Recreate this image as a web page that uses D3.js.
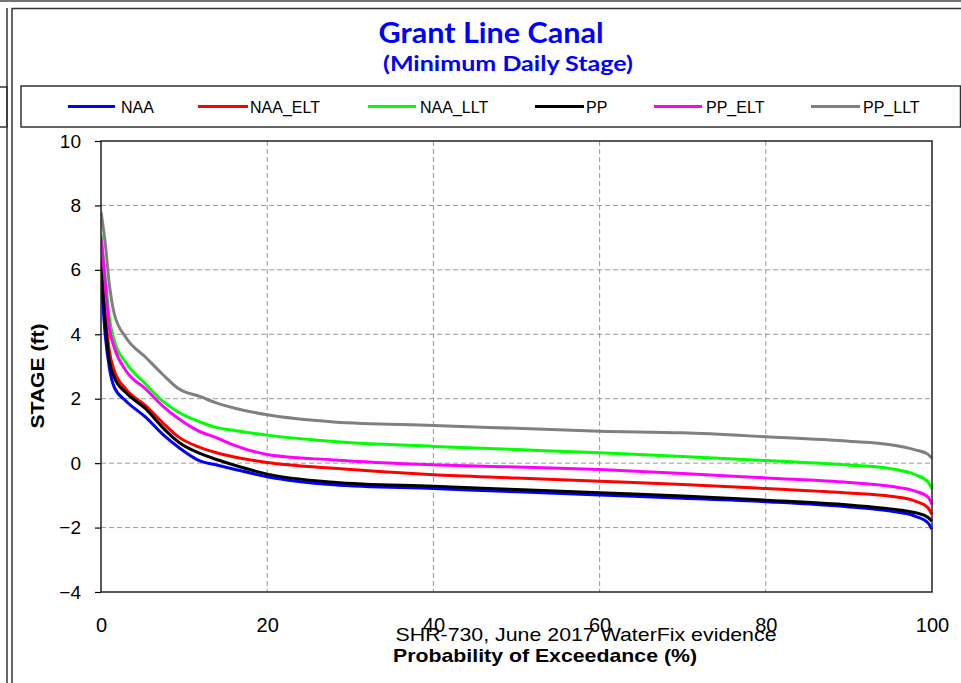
<!DOCTYPE html>
<html>
<head>
<meta charset="utf-8">
<script src="https://cdn.jsdelivr.net/npm/d3@7"></script>
<style>
  html, body { margin: 0; padding: 0; background: #fff; }
  svg { display: block; }
</style>
</head>
<body>
<svg id="chart" width="961" height="683"></svg>
<script>
// ---------- data ----------
const titleText = "Grant Line Canal";
const subtitleText = "(Minimum Daily Stage)";
const xTitle = "Probability of Exceedance (%)";
const yTitle = "STAGE (ft)";
const noteText = "SHR-730, June 2017 WaterFix evidence";

const seriesNames = ["NAA", "NAA_ELT", "NAA_LLT", "PP", "PP_ELT", "PP_LLT"];
const seriesColors = ["#0000ff", "#ff0000", "#00ff00", "#000000", "#ff00ff", "#808080"];

const exceedance = [0, 0.5, 1, 1.6, 3, 5.4, 7.4, 9.4, 11.9, 13.8, 15.9, 20, 28, 40, 50, 60, 70, 80, 90, 95, 98, 99.5, 100];

const NAA     = [5.8, 4.0, 2.97, 2.35, 1.93, 1.42, 0.90, 0.48, 0.07, -0.05, -0.18, -0.42, -0.67, -0.79, -0.89, -0.99, -1.09, -1.20, -1.36, -1.49, -1.65, -1.85, -2.05];
const NAA_ELT = [6.6, 4.73, 3.49, 2.87, 2.30, 1.78, 1.26, 0.80, 0.49, 0.33, 0.20, 0.02, -0.16, -0.36, -0.46, -0.56, -0.66, -0.79, -0.93, -1.03, -1.18, -1.38, -1.6];
const NAA_LLT = [7.1, 5.8, 4.52, 3.80, 3.12, 2.45, 1.93, 1.57, 1.28, 1.11, 1.02, 0.87, 0.67, 0.52, 0.42, 0.32, 0.21, 0.08, -0.06, -0.17, -0.36, -0.58, -0.8];
const PP      = [6.4, 4.41, 3.18, 2.66, 2.19, 1.68, 1.11, 0.64, 0.30, 0.12, -0.05, -0.34, -0.59, -0.72, -0.82, -0.92, -1.02, -1.15, -1.30, -1.42, -1.54, -1.68, -1.80];
const PP_ELT  = [7.0, 5.6, 4.21, 3.59, 2.87, 2.30, 1.78, 1.37, 0.98, 0.80, 0.57, 0.27, 0.10, -0.05, -0.12, -0.20, -0.32, -0.46, -0.60, -0.72, -0.87, -1.05, -1.28];
const PP_LLT  = [7.8, 6.85, 5.56, 4.63, 3.90, 3.28, 2.76, 2.30, 2.07, 1.88, 1.72, 1.50, 1.28, 1.17, 1.08, 0.99, 0.94, 0.82, 0.68, 0.57, 0.41, 0.28, 0.15];

const xTicks = [0, 20, 40, 60, 80, 100];
const yTicks = [-4, -2, 0, 2, 4, 6, 8, 10];

const seriesValues = [NAA, NAA_ELT, NAA_LLT, PP, PP_ELT, PP_LLT];

// ---------- layout ----------
const svg = d3.select("#chart");
const plot = { left: 101, right: 932, top: 141, bottom: 592 };

const x = d3.scaleLinear().domain([0, 100]).range([plot.left, plot.right]);
const y = d3.scaleLinear().domain([-4, 10]).range([plot.bottom, plot.top]);

// outer frames (page decorations)
svg.append("line").attr("x1", 0).attr("x2", 961).attr("y1", 1).attr("y2", 1)
  .attr("stroke", "#444").attr("stroke-width", 1.5);
svg.append("line").attr("x1", 7).attr("x2", 7).attr("y1", 8).attr("y2", 683)
  .attr("stroke", "#333").attr("stroke-width", 1.5);
svg.append("rect").attr("x", -5).attr("y", 87).attr("width", 12).attr("height", 40)
  .attr("fill", "none").attr("stroke", "#333").attr("stroke-width", 1.5);
svg.append("path").attr("d", "M12,690 L12,8.5 L970,8.5")
  .attr("fill", "none").attr("stroke", "#333").attr("stroke-width", 1.5);

// title
svg.append("text").attr("x", 491).attr("y", 43)
  .attr("text-anchor", "middle")
  .attr("font-family", "Lato, 'Open Sans', sans-serif").attr("font-weight", "bold")
  .attr("font-size", 29).attr("fill", "#0000ff")
  .attr("textLength", 225).attr("lengthAdjust", "spacingAndGlyphs")
  .text(titleText);
svg.append("text").attr("x", 508).attr("y", 71)
  .attr("text-anchor", "middle")
  .attr("font-family", "Lato, 'Open Sans', sans-serif").attr("font-weight", "bold")
  .attr("font-size", 21).attr("fill", "#0000ff")
  .attr("textLength", 250).attr("lengthAdjust", "spacingAndGlyphs")
  .text(subtitleText);

// legend box
svg.append("rect").attr("x", 21).attr("y", 86).attr("width", 939.5).attr("height", 41)
  .attr("fill", "#fff").attr("stroke", "#333").attr("stroke-width", 1.5);

const legendLineStart = [68, 198, 368, 535, 654, 811];
const legendLineEnd   = [115, 248, 416, 584, 702, 860];
const legendTextStart = [121, 250, 420, 586, 706, 863];
const legend = svg.append("g");
seriesNames.forEach((name, i) => {
  legend.append("line")
    .attr("x1", legendLineStart[i]).attr("x2", legendLineEnd[i])
    .attr("y1", 106.5).attr("y2", 106.5)
    .attr("stroke", seriesColors[i]).attr("stroke-width", 3);
  legend.append("text")
    .attr("x", legendTextStart[i]).attr("y", 112.5)
    .attr("font-family", "Arial, 'Liberation Sans', sans-serif")
    .attr("font-size", 16).attr("fill", "#000")
    .text(name);
});

// grid
const grid = svg.append("g").attr("stroke", "#999").attr("stroke-width", 1)
  .attr("stroke-dasharray", "5,3");
yTicks.filter(v => v > -4 && v < 10).forEach(v => {
  grid.append("line").attr("x1", plot.left).attr("x2", plot.right)
    .attr("y1", y(v)).attr("y2", y(v));
});
xTicks.filter(v => v > 0 && v < 100).forEach(v => {
  grid.append("line").attr("x1", x(v)).attr("x2", x(v))
    .attr("y1", plot.top).attr("y2", plot.bottom);
});

// axes
const yAxis = d3.axisLeft(y).tickValues(yTicks).tickSize(6).tickPadding(14);
const gy = svg.append("g").attr("transform", `translate(${plot.left},0)`).call(yAxis);
gy.select(".domain").remove();
gy.selectAll(".tick line").attr("stroke", "#000").attr("stroke-width", 1.2);
gy.selectAll(".tick text")
  .attr("font-family", "Arial, 'Liberation Sans', sans-serif")
  .attr("font-size", 19).attr("fill", "#000");

const xAxis = d3.axisBottom(x).tickValues(xTicks).tickSize(0).tickPadding(26);
const gx = svg.append("g").attr("transform", `translate(0,${plot.bottom})`).call(xAxis);
gx.select(".domain").remove();
gx.selectAll(".tick text")
  .attr("font-family", "Arial, 'Liberation Sans', sans-serif")
  .attr("font-size", 20).attr("fill", "#000");

// series lines
const line = d3.line()
  .x((d, i) => x(exceedance[i]))
  .y(d => y(d))
  .curve(d3.curveMonotoneX);

const clip = svg.append("clipPath").attr("id", "plotclip")
  .append("rect").attr("x", plot.left).attr("y", plot.top - 2)
  .attr("width", plot.right - plot.left + 3).attr("height", plot.bottom - plot.top + 4);

const lines = svg.append("g").attr("clip-path", "url(#plotclip)");
seriesValues.forEach((vals, i) => {
  lines.append("path")
    .attr("d", line(vals))
    .attr("fill", "none")
    .attr("stroke", seriesColors[i])
    .attr("stroke-width", 3)
    .attr("stroke-linejoin", "round");
});

// plot frame
svg.append("rect")
  .attr("x", plot.left).attr("y", plot.top)
  .attr("width", plot.right - plot.left).attr("height", plot.bottom - plot.top)
  .attr("fill", "none").attr("stroke", "#222").attr("stroke-width", 1.5);

// axis titles
svg.append("text")
  .attr("transform", `translate(44,376) rotate(-90)`)
  .attr("text-anchor", "middle")
  .attr("font-family", "Arial, 'Liberation Sans', sans-serif").attr("font-weight", "bold")
  .attr("font-size", 18).attr("fill", "#000")
  .attr("textLength", 105).attr("lengthAdjust", "spacingAndGlyphs")
  .text(yTitle);

svg.append("text")
  .attr("x", 545).attr("y", 662)
  .attr("text-anchor", "middle")
  .attr("font-family", "Arial, 'Liberation Sans', sans-serif").attr("font-weight", "bold")
  .attr("font-size", 19).attr("fill", "#000")
  .attr("textLength", 304).attr("lengthAdjust", "spacingAndGlyphs")
  .text(xTitle);

svg.append("text")
  .attr("x", 586).attr("y", 641)
  .attr("text-anchor", "middle")
  .attr("font-family", "Arial, 'Liberation Sans', sans-serif")
  .attr("font-size", 19).attr("fill", "#000")
  .attr("textLength", 381).attr("lengthAdjust", "spacingAndGlyphs")
  .text(noteText);
</script>
</body>
</html>
